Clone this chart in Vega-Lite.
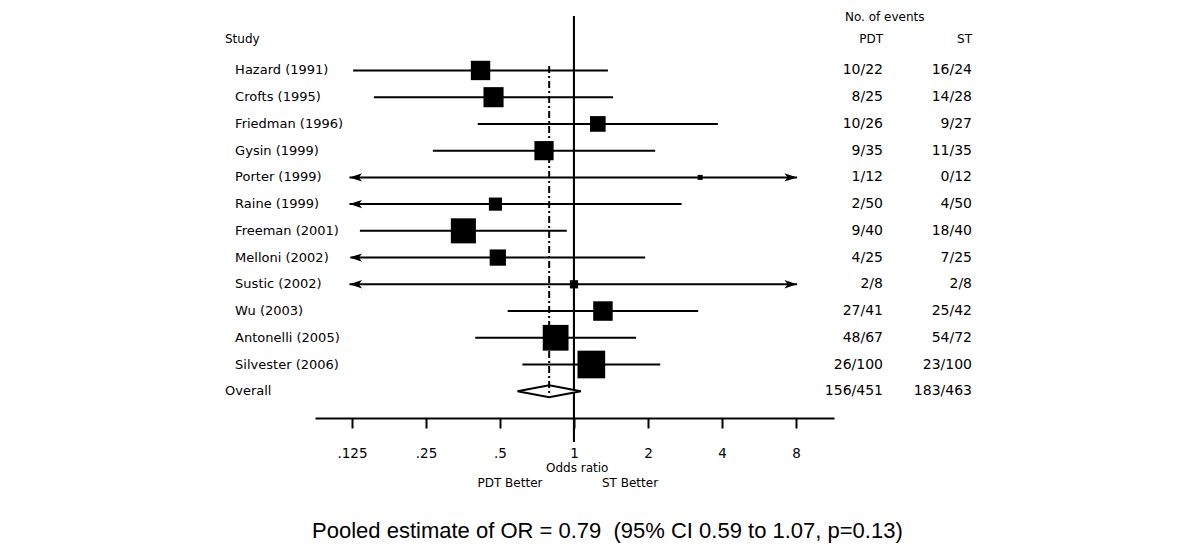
{
  "$schema": "https://vega.github.io/schema/vega-lite/v6.json",
  "width": 1200,
  "height": 552,
  "autosize": "none",
  "padding": 0,
  "background": "white",
  "config": {"view": {"stroke": null}},
  "datasets": {
    "studies": [
      {"study": "Hazard (1991)", "pdt": "10/22", "st": "16/24", "or": 0.4167, "lo": 0.1263, "hi": 1.374, "w": 4.17, "row": 1},
      {"study": "Crofts (1995)", "pdt": "8/25", "st": "14/28", "or": 0.4706, "lo": 0.1535, "hi": 1.442, "w": 4.49, "row": 2},
      {"study": "Friedman (1996)", "pdt": "10/26", "st": "9/27", "or": 1.25, "lo": 0.406, "hi": 3.848, "w": 2.72, "row": 3},
      {"study": "Gysin (1999)", "pdt": "9/35", "st": "11/35", "or": 0.7552, "lo": 0.2666, "hi": 2.139, "w": 4.09, "row": 4},
      {"study": "Porter (1999)", "pdt": "1/12", "st": "0/12", "or": 3.26, "lo": 0.12, "hi": 88.3, "w": 0.28, "row": 5},
      {"study": "Raine (1999)", "pdt": "2/50", "st": "4/50", "or": 0.4792, "lo": 0.0837, "hi": 2.74, "w": 1.92, "row": 6},
      {"study": "Freeman (2001)", "pdt": "9/40", "st": "18/40", "or": 0.3548, "lo": 0.1346, "hi": 0.935, "w": 6.975, "row": 7},
      {"study": "Melloni (2002)", "pdt": "4/25", "st": "7/25", "or": 0.4898, "lo": 0.1232, "hi": 1.947, "w": 2.94, "row": 8},
      {"study": "Sustic (2002)", "pdt": "2/8", "st": "2/8", "or": 1.0, "lo": 0.104, "hi": 9.6, "w": 0.75, "row": 9},
      {"study": "Wu (2003)", "pdt": "27/41", "st": "25/42", "or": 1.3114, "lo": 0.5374, "hi": 3.2, "w": 4.22, "row": 10},
      {"study": "Antonelli (2005)", "pdt": "48/67", "st": "54/72", "or": 0.8421, "lo": 0.3966, "hi": 1.7876, "w": 7.38, "row": 11},
      {"study": "Silvester (2006)", "pdt": "26/100", "st": "23/100", "or": 1.1763, "lo": 0.6168, "hi": 2.243, "w": 8.51, "row": 12},
      {"study": "Overall", "pdt": "156/451", "st": "183/463", "or": 0.7926, "lo": 0.585, "hi": 1.066, "w": null, "row": 13}
    ],
    "notes": [{"k": 1}]
  },
  "data": {"name": "studies"},
  "layer": [
    {
      "transform": [
        {"filter": "datum.row < 13"},
        {"calculate": "clamp(datum.lo, 0.1221, 8.08)", "as": "clo"},
        {"calculate": "clamp(datum.hi, 0.1221, 8.08)", "as": "chi"}
      ],
      "mark": {"type": "rule", "color": "black", "strokeWidth": 2},
      "encoding": {
        "x": {
          "field": "clo", "type": "quantitative",
          "scale": {"type": "log", "base": 2, "domain": [0.0884, 11.42], "range": [315, 834], "nice": false, "zero": false},
          "axis": {
            "title": null, "grid": false,
            "values": [0.125, 0.25, 0.5, 1, 2, 4, 8],
            "format": "~g",
            "labelExpr": "datum.value < 1 ? replace(datum.label, '0.', '.') : datum.label",
            "domainColor": "black", "domainWidth": 2,
            "tickColor": "black", "tickWidth": 2, "tickSize": 10,
            "labelFont": "DejaVu Sans", "labelFontSize": 13.5, "labelColor": "black",
            "labelBaseline": "middle", "labelPadding": 25,
            "labelFlush": false, "labelOverlap": false,
            "offset": -134
          }
        },
        "x2": {"field": "chi"},
        "y": {"field": "row", "type": "quantitative", "scale": {"domain": [-1, 15], "range": [17, 444.7], "zero": false, "nice": false}, "axis": null}
      }
    },
    {
      "transform": [{"filter": "datum.row < 13 && datum.lo < 0.125"}],
      "mark": {"type": "point", "shape": "M 0 0 L 2.4 -0.8 L 1.8 0 L 2.4 0.8 Z", "filled": true, "color": "black", "opacity": 1, "size": 110, "strokeWidth": 0},
      "encoding": {
        "x": {"datum": 0.1221},
        "y": {"field": "row", "type": "quantitative"}
      }
    },
    {
      "transform": [{"filter": "datum.row < 13 && datum.hi > 8"}],
      "mark": {"type": "point", "shape": "M 0 0 L -2.4 -0.8 L -1.8 0 L -2.4 0.8 Z", "filled": true, "color": "black", "opacity": 1, "size": 110, "strokeWidth": 0},
      "encoding": {
        "x": {"datum": 8.08},
        "y": {"field": "row", "type": "quantitative"}
      }
    },
    {
      "mark": {"type": "rule", "color": "black", "strokeWidth": 2},
      "encoding": {
        "x": {"datum": 1},
        "y": {"datum": -1.04},
        "y2": {"datum": 14.9}
      }
    },
    {
      "transform": [{"filter": "datum.row < 13"}],
      "mark": {"type": "point", "shape": "square", "filled": true, "color": "black", "opacity": 1, "strokeWidth": 0},
      "encoding": {
        "x": {"field": "or", "type": "quantitative"},
        "y": {"field": "row", "type": "quantitative"},
        "size": {"field": "w", "type": "quantitative", "scale": {"type": "linear", "domain": [0, 10], "range": [0, 900], "zero": true}, "legend": null}
      }
    },
    {
      "transform": [{"filter": "datum.row == 13"}],
      "mark": {"type": "point", "shape": "M -1 0 L 0 -0.19 L 1 0 L 0 0.19 Z", "fill": "white", "stroke": "black", "strokeWidth": 2, "opacity": 1, "size": 4019},
      "encoding": {
        "x": {"field": "or", "type": "quantitative"},
        "y": {"field": "row", "type": "quantitative"}
      }
    },
    {
      "transform": [{"filter": "datum.row == 13"}],
      "mark": {"type": "rule", "color": "black", "strokeWidth": 2, "strokeDash": [7, 3, 2, 3]},
      "encoding": {
        "x": {"field": "or", "type": "quantitative"},
        "y": {"datum": 0.83},
        "y2": {"datum": 13.07}
      }
    },
    {
      "transform": [{"filter": "datum.row < 13"}],
      "mark": {"type": "text", "align": "left", "baseline": "middle", "font": "DejaVu Sans", "fontSize": 13, "color": "black"},
      "encoding": {
        "x": {"datum": 0.04183},
        "y": {"field": "row", "type": "quantitative"},
        "text": {"field": "study"}
      }
    },
    {
      "transform": [{"filter": "datum.row == 13"}],
      "mark": {"type": "text", "align": "left", "baseline": "middle", "font": "DejaVu Sans", "fontSize": 13, "color": "black"},
      "encoding": {
        "x": {"datum": 0.03805},
        "y": {"field": "row", "type": "quantitative"},
        "text": {"field": "study"}
      }
    },
    {
      "mark": {"type": "text", "align": "right", "baseline": "middle", "font": "DejaVu Sans", "fontSize": 14, "color": "black"},
      "encoding": {
        "x": {"datum": 18.07},
        "y": {"field": "row", "type": "quantitative"},
        "text": {"field": "pdt"}
      }
    },
    {
      "mark": {"type": "text", "align": "right", "baseline": "middle", "font": "DejaVu Sans", "fontSize": 14, "color": "black"},
      "encoding": {
        "x": {"datum": 41.6},
        "y": {"field": "row", "type": "quantitative"},
        "text": {"field": "st"}
      }
    },
    {
      "data": {"name": "notes"},
      "mark": {"type": "text", "align": "left", "baseline": "middle", "font": "DejaVu Sans", "fontSize": 12, "color": "black", "text": "Study"},
      "encoding": {"x": {"datum": 0.03805}, "y": {"datum": -0.18}}
    },
    {
      "data": {"name": "notes"},
      "mark": {"type": "text", "align": "left", "baseline": "middle", "font": "DejaVu Sans", "fontSize": 12, "color": "black", "text": "No. of events"},
      "encoding": {"x": {"datum": 12.66}, "y": {"datum": -1}}
    },
    {
      "data": {"name": "notes"},
      "mark": {"type": "text", "align": "right", "baseline": "middle", "font": "DejaVu Sans", "fontSize": 12, "color": "black", "text": "PDT"},
      "encoding": {"x": {"datum": 18.07}, "y": {"datum": -0.18}}
    },
    {
      "data": {"name": "notes"},
      "mark": {"type": "text", "align": "right", "baseline": "middle", "font": "DejaVu Sans", "fontSize": 12, "color": "black", "text": "ST"},
      "encoding": {"x": {"datum": 41.6}, "y": {"datum": -0.18}}
    },
    {
      "data": {"name": "notes"},
      "mark": {"type": "text", "align": "center", "baseline": "middle", "font": "DejaVu Sans", "fontSize": 12, "color": "black", "text": "Odds ratio"},
      "encoding": {"x": {"datum": 1.03}, "y": {"datum": 15.87}}
    },
    {
      "data": {"name": "notes"},
      "mark": {"type": "text", "align": "center", "baseline": "middle", "font": "DejaVu Sans", "fontSize": 12, "color": "black", "text": "PDT Better"},
      "encoding": {"x": {"datum": 0.549}, "y": {"datum": 16.43}}
    },
    {
      "data": {"name": "notes"},
      "mark": {"type": "text", "align": "center", "baseline": "middle", "font": "DejaVu Sans", "fontSize": 12, "color": "black", "text": "ST Better"},
      "encoding": {"x": {"datum": 1.69}, "y": {"datum": 16.43}}
    },
    {
      "data": {"name": "notes"},
      "mark": {"type": "text", "align": "left", "baseline": "alphabetic", "font": "Liberation Sans", "fontSize": 22, "color": "black", "text": "Pooled estimate of OR = 0.79\u00a0 (95% CI 0.59 to 1.07, p=0.13)"},
      "encoding": {"x": {"datum": 0.086}, "y": {"datum": 18.49}}
    }
  ]
}
